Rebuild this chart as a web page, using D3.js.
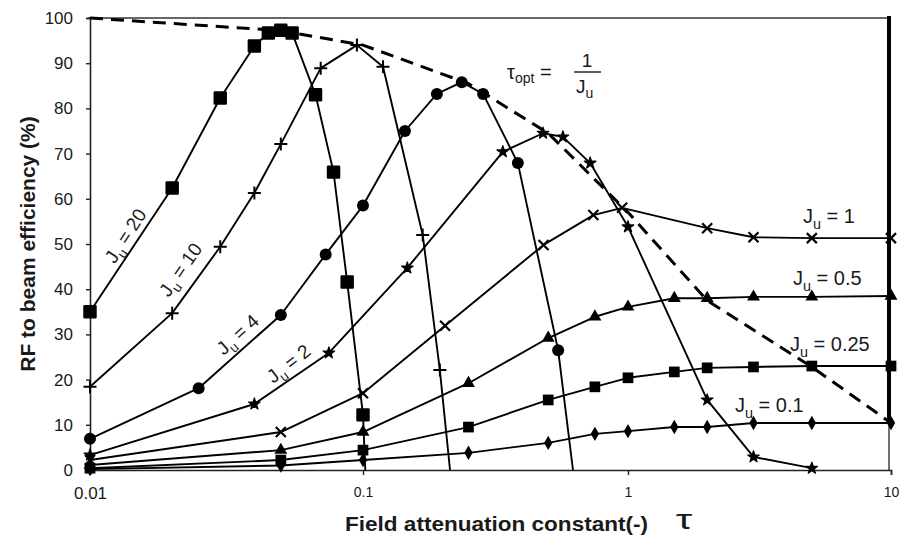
<!DOCTYPE html>
<html>
<head>
<meta charset="utf-8">
<script src="https://cdn.jsdelivr.net/npm/d3@7"></script>
<style>
  body { margin: 0; background: #fff; }
  svg { display: block; }
  text { font-family: "Liberation Sans", Arial, sans-serif; fill: #1a1a1a; }
</style>
</head>
<body>
<svg id="chart" width="902" height="538"></svg>
<script>
// Axis ticks
const tauTicks = [0.01, 0.1, 1, 10];
const tauTickLabels = ["0.01", "0.1", "1", "10"];
const effTicks = [0, 10, 20, 30, 40, 50, 60, 70, 80, 90, 100];
const effTickLabels = ["0", "10", "20", "30", "40", "50", "60", "70", "80", "90", "100"];

// RF-to-beam efficiency (%) versus field attenuation constant tau, one curve per J_u
const ju20Tau = [0.01, 0.02, 0.03, 0.04, 0.045, 0.05, 0.055, 0.067, 0.078, 0.0875, 0.1];
const ju20Eff = [35.0, 62.4, 82.3, 93.8, 96.7, 97.3, 96.7, 83.0, 65.9, 41.6, 12.2];
const ju20Zero = 0.102;

const ju10Tau = [0.01, 0.02, 0.03, 0.04, 0.05, 0.07, 0.095, 0.119, 0.168, 0.195];
const ju10Eff = [18.4, 34.7, 49.4, 61.3, 72.1, 88.9, 94.0, 89.2, 52.0, 22.1];
const ju10Zero = 0.213;

const ju4Tau = [0.01, 0.025, 0.05, 0.073, 0.1, 0.144, 0.19, 0.236, 0.284, 0.384, 0.545];
const ju4Eff = [6.9, 18.1, 34.3, 47.7, 58.5, 75.0, 83.2, 85.8, 83.2, 67.9, 26.5];
const ju4Zero = 0.62;

const ju2Tau = [0.01, 0.04, 0.075, 0.147, 0.337, 0.478, 0.568, 0.72, 1.0, 2, 3, 5];
const ju2Eff = [3.3, 14.6, 25.9, 44.7, 70.4, 74.5, 73.7, 67.9, 53.8, 15.5, 2.9, 0.4];

const ju1Tau = [0.01, 0.05, 0.1, 0.204, 0.48, 0.74, 0.95, 2, 3, 5, 10];
const ju1Eff = [2.2, 8.4, 17.0, 31.9, 49.8, 56.4, 58.0, 53.5, 51.5, 51.3, 51.3];

const ju05Tau = [0.01, 0.05, 0.1, 0.25, 0.5, 0.75, 1, 1.5, 2, 3, 5, 10];
const ju05Eff = [1.1, 4.4, 8.4, 19.2, 29.2, 33.9, 36.1, 38.0, 38.0, 38.3, 38.3, 38.5];

const ju025Tau = [0.01, 0.05, 0.1, 0.25, 0.5, 0.75, 1, 1.5, 2, 3, 5, 10];
const ju025Eff = [0.4, 2.2, 4.4, 9.5, 15.5, 18.4, 20.4, 21.7, 22.6, 22.8, 23.0, 23.0];

const ju01Tau = [0.01, 0.05, 0.1, 0.25, 0.5, 0.75, 1, 1.5, 2, 3, 5, 10];
const ju01Eff = [0.2, 1.0, 2.2, 3.8, 6.0, 8.0, 8.6, 9.5, 9.5, 10.4, 10.4, 10.4];

// Envelope of the optima, tau_opt = 1 / J_u
const optTau = [0.01, 0.05, 0.1, 0.25, 0.5, 1, 2, 5, 10];
const optEff = [100, 97.2, 94, 85.5, 74.5, 57, 37.5, 22.8, 10.4];

const series = [
  { tau: ju20Tau, eff: ju20Eff, zero: ju20Zero, marker: "bigsquare" },
  { tau: ju10Tau, eff: ju10Eff, zero: ju10Zero, marker: "plus" },
  { tau: ju4Tau, eff: ju4Eff, zero: ju4Zero, marker: "circle" },
  { tau: ju2Tau, eff: ju2Eff, marker: "star" },
  { tau: ju1Tau, eff: ju1Eff, marker: "cross" },
  { tau: ju05Tau, eff: ju05Eff, marker: "triangle" },
  { tau: ju025Tau, eff: ju025Eff, marker: "square" },
  { tau: ju01Tau, eff: ju01Eff, marker: "diamond" }
];

const svg = d3.select("#chart");

// Piecewise log scale: one segment per decade
const x = d3.scaleLog().domain([0.01, 0.1, 1, 10]).range([90, 363, 628, 891]);
const y = d3.scaleLinear().domain([0, 100]).range([470, 18]);

// Frame
svg.append("line").attr("x1", 88).attr("x2", 891).attr("y1", y(100)).attr("y2", y(100))
  .attr("stroke", "#333").attr("stroke-width", 1.6);
svg.append("line").attr("x1", 889).attr("x2", 889).attr("y1", y(100) - 2).attr("y2", 423)
  .attr("stroke", "#000").attr("stroke-width", 4);
svg.append("line").attr("x1", 889).attr("x2", 889).attr("y1", 423).attr("y2", y(0))
  .attr("stroke", "#333").attr("stroke-width", 1.4);

// Y axis
const yAxis = d3.axisLeft(y).tickValues(effTicks).tickSize(4).tickPadding(13)
  .tickFormat((d, i) => effTickLabels[i]);
const gy = svg.append("g").attr("transform", `translate(${x(0.01)},0)`).call(yAxis);
gy.select(".domain").attr("stroke", "#222").attr("stroke-width", 1.6);
gy.selectAll(".tick line").attr("stroke", "#222").attr("stroke-width", 1.4);
gy.selectAll(".tick text").attr("font-size", 17).attr("fill", "#222")
  .attr("font-family", "Liberation Sans, Arial, sans-serif");

// X axis
const xAxis = d3.axisBottom(x).tickValues(tauTicks).tickSize(5).tickPadding(12)
  .tickFormat((d, i) => tauTickLabels[i]);
const gx = svg.append("g").attr("transform", `translate(0,${y(0)})`).call(xAxis);
gx.select(".domain").attr("stroke", "#222").attr("stroke-width", 1.6);
gx.selectAll(".tick line").attr("stroke", "#222").attr("stroke-width", 1.4);
gx.selectAll(".tick text").attr("fill", "#222")
  .attr("font-size", (d, i) => i === 0 ? 17 : 14)
  .attr("font-family", (d, i) => i === 0 ? "Liberation Sans, Arial, sans-serif" : "DejaVu Sans Mono, monospace");

// Axis titles
svg.append("text").attr("x", 345).attr("y", 531).attr("font-size", 21).attr("font-weight", "bold")
  .attr("textLength", 303).attr("lengthAdjust", "spacingAndGlyphs")
  .text("Field attenuation constant(-)");
svg.append("text").attr("transform", "translate(684,529) scale(1.5,1)")
  .attr("text-anchor", "middle").attr("font-size", 28)
  .attr("font-family", "Liberation Serif, serif").text("τ");
svg.append("text").attr("transform", "translate(35,244) rotate(-90)")
  .attr("text-anchor", "middle").attr("font-size", 21).attr("font-weight", "bold")
  .text("RF to beam efficiency (%)");

// Curves
const line = d3.line().x(d => x(d[0])).y(d => y(d[1]));
series.forEach(s => {
  const pts = s.tau.map((t, i) => [t, s.eff[i]]);
  if (s.zero !== undefined) pts.push([s.zero, 0]);
  svg.append("path").attr("d", line(pts)).attr("fill", "none")
    .attr("stroke", "#000").attr("stroke-width", 1.9).attr("stroke-linejoin", "round");
});

// Optimum envelope (dashed)
svg.append("path").attr("d", line(optTau.map((t, i) => [t, optEff[i]])))
  .attr("fill", "none").attr("stroke", "#000").attr("stroke-width", 3)
  .attr("stroke-dasharray", "13,8");

// Markers
function drawMarker(g, kind) {
  switch (kind) {
    case "bigsquare":
      g.append("path").attr("d", d3.symbol(d3.symbolSquare, 120)())
        .attr("fill", "#000").attr("stroke", "#000").attr("stroke-width", 2.5).attr("stroke-linejoin", "round");
      break;
    case "circle":
      g.append("circle").attr("r", 6).attr("fill", "#000");
      break;
    case "plus":
      g.append("path").attr("d", "M-6.5,0H6.5M0,-6.5V6.5").attr("stroke", "#000").attr("stroke-width", 2);
      break;
    case "star":
      g.append("path").attr("d", d3.symbol(d3.symbolStar, 42)()).attr("fill", "#000")
        .attr("stroke", "#000").attr("stroke-width", 1.2).attr("stroke-linejoin", "round");
      break;
    case "cross":
      g.append("path").attr("d", "M-5,-5L5,5M-5,5L5,-5").attr("stroke", "#000").attr("stroke-width", 2.2);
      break;
    case "triangle":
      g.append("path").attr("d", d3.symbol(d3.symbolTriangle, 72)()).attr("fill", "#000");
      break;
    case "square":
      g.append("path").attr("d", d3.symbol(d3.symbolSquare, 115)()).attr("fill", "#000");
      break;
    case "diamond":
      g.append("path").attr("d", d3.symbol(d3.symbolDiamond, 60)()).attr("fill", "#000");
      break;
  }
}
series.forEach(s => {
  s.tau.forEach((t, i) => {
    const g = svg.append("g").attr("transform", `translate(${x(t)},${y(s.eff[i])})`);
    drawMarker(g, s.marker);
  });
});

// Curve labels
function juLabel(parent, value, size) {
  const t = parent.append("text").attr("font-size", size);
  t.append("tspan").text("J");
  t.append("tspan").attr("font-size", size * 0.72).attr("dy", size * 0.28).text("u");
  t.append("tspan").attr("dy", -size * 0.28).text(" = " + value);
  return t;
}
function rotatedLabel(value, cx, cy, angle) {
  const g = svg.append("g").attr("transform", `translate(${cx},${cy}) rotate(${angle})`);
  juLabel(g, value, 19).attr("text-anchor", "middle").attr("y", 6);
}
rotatedLabel("20", 126, 236, -57);
rotatedLabel("10", 181, 270, -55);
rotatedLabel("4", 238, 335, -42);
rotatedLabel("2", 289, 364, -38);

juLabel(svg, "1", 20).attr("x", 803).attr("y", 223);
juLabel(svg, "0.5", 20).attr("x", 793).attr("y", 285);
juLabel(svg, "0.25", 20).attr("x", 790).attr("y", 351);
juLabel(svg, "0.1", 20).attr("x", 735).attr("y", 412);

// tau_opt = 1 / J_u
const opt = svg.append("text").attr("x", 507).attr("y", 79).attr("font-size", 20);
opt.append("tspan").text("τ");
opt.append("tspan").attr("font-size", 14).attr("dy", 4).text("opt");
opt.append("tspan").attr("dy", -4).text(" =");
svg.append("text").attr("x", 587).attr("y", 67).attr("text-anchor", "middle").attr("font-size", 19).text("1");
svg.append("line").attr("x1", 574).attr("x2", 601).attr("y1", 72).attr("y2", 72)
  .attr("stroke", "#1a1a1a").attr("stroke-width", 1.4);
const den = svg.append("text").attr("x", 576).attr("y", 93).attr("font-size", 19);
den.append("tspan").text("J");
den.append("tspan").attr("font-size", 14).attr("dy", 5).text("u");
</script>
</body>
</html>
